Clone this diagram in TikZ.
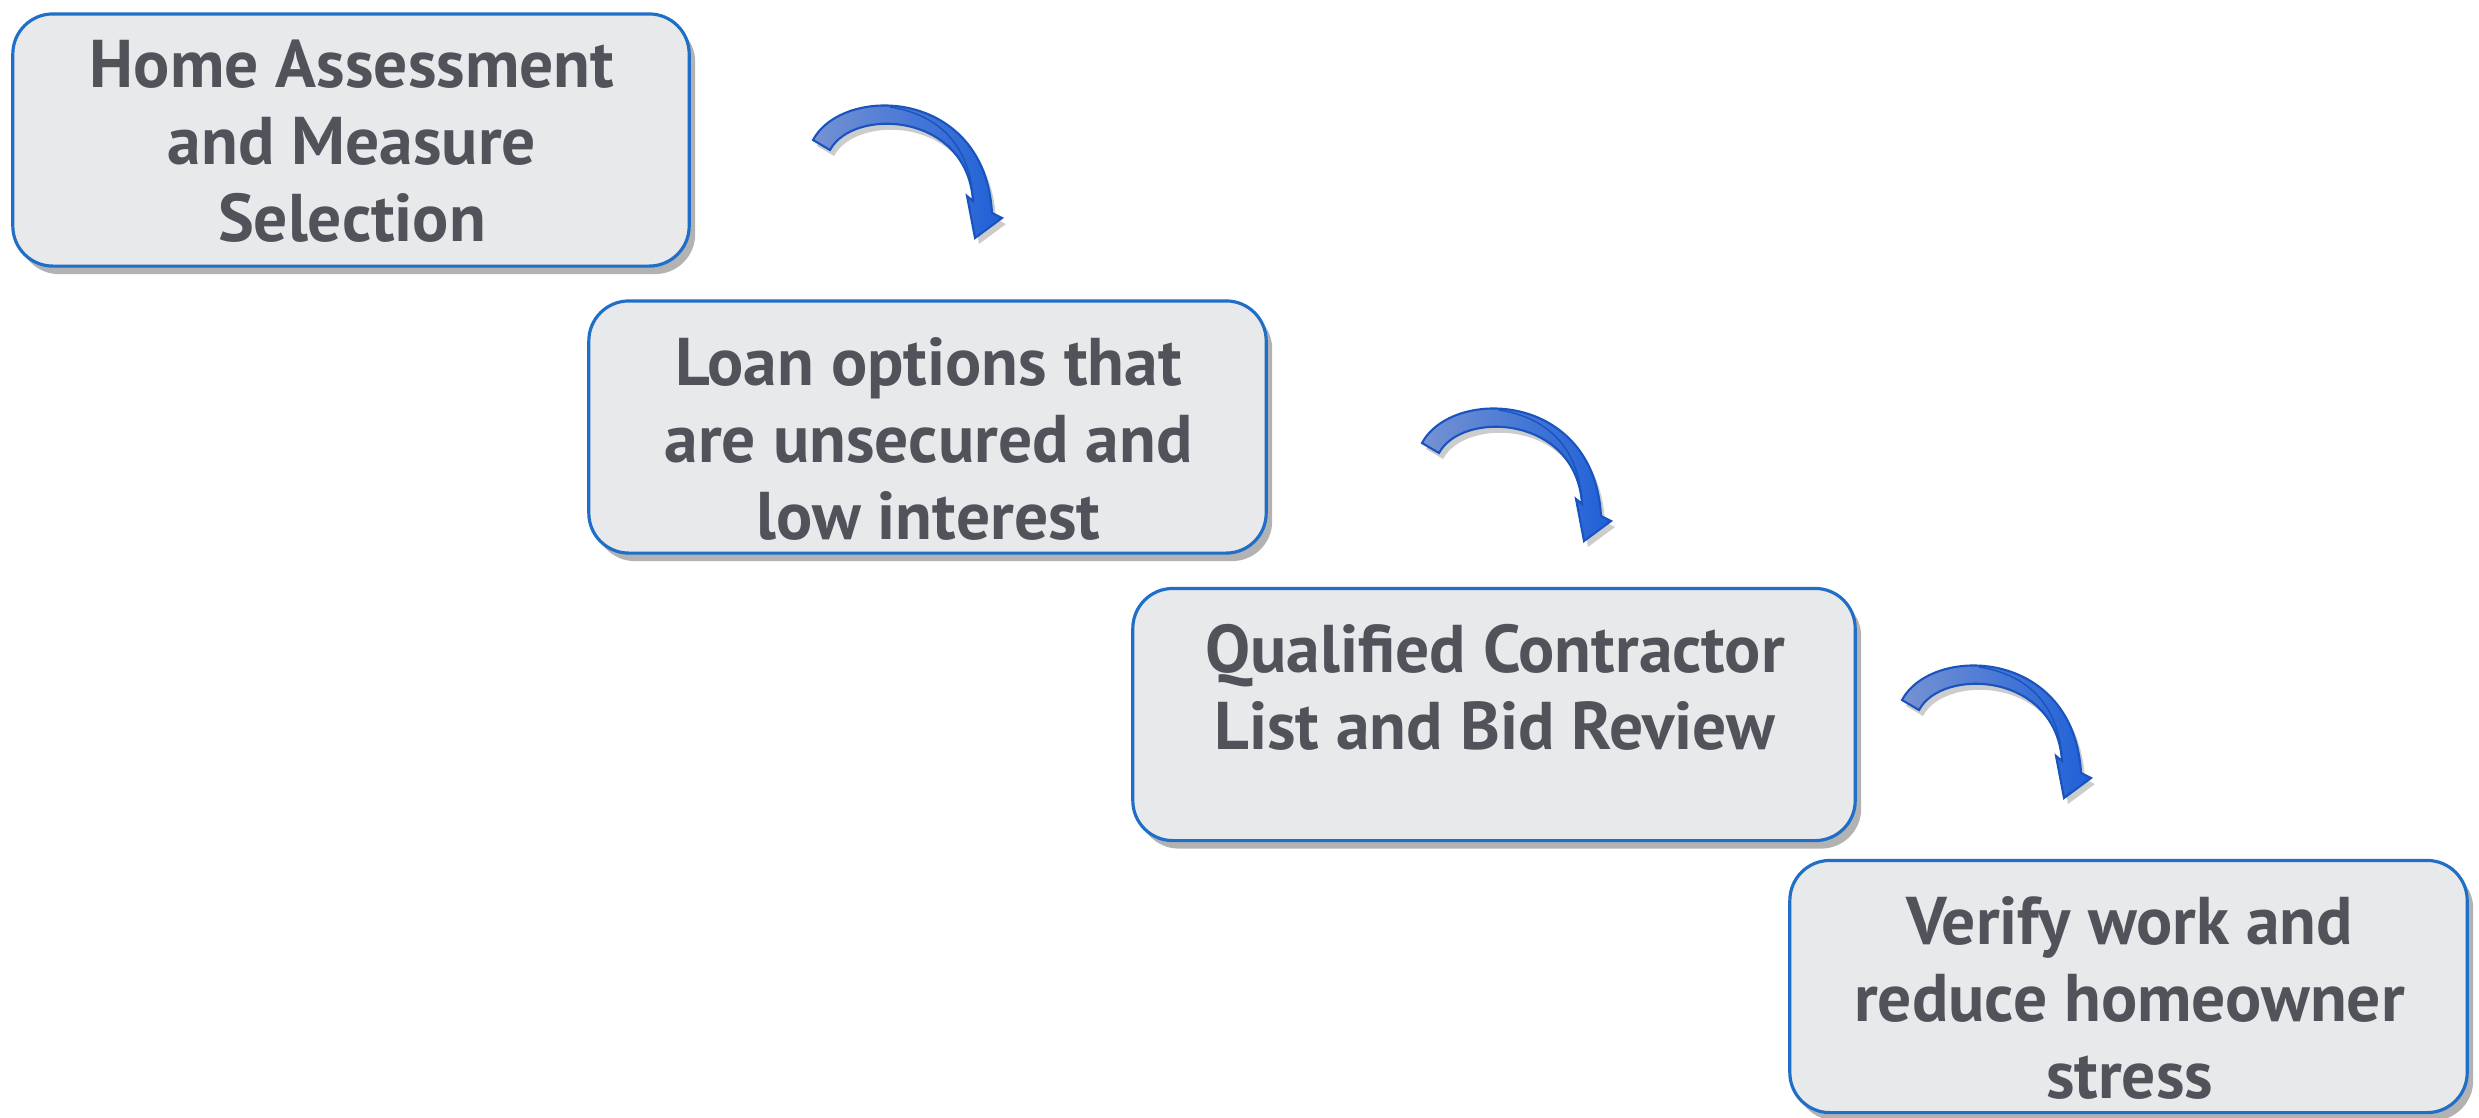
\documentclass[tikz,border=0pt]{standalone}
\usepackage{fontspec}
\setmainfont{PT Sans}
\usetikzlibrary{calc,shadows}

\definecolor{boxfill}{RGB}{232,233,235}
\definecolor{boxline}{RGB}{31,111,200}
\definecolor{boxtext}{RGB}{80,84,90}
\definecolor{arrowlight}{RGB}{118,146,210}
\definecolor{arrowdark}{RGB}{30,96,216}
\definecolor{arrowline}{RGB}{25,84,190}

\begin{document}
\begin{tikzpicture}[x=0.01cm,y=-0.01cm,
  stepbox/.style={draw=boxline, line width=0.9pt, fill=boxfill, rounded corners=0.4cm,
    minimum height=2.52cm,
    drop shadow={shadow xshift=0.06cm, shadow yshift=-0.08cm, opacity=0.3, fill=black}},
  steptext/.style={text=boxtext, align=center, font=\bfseries\fontsize{19.2}{21.9}\selectfont},
  bendarrow/.style={left color=arrowlight, right color=arrowdark, draw=arrowline, line width=0.6pt,
    drop shadow={shadow xshift=0.04cm, shadow yshift=-0.06cm, opacity=0.2, fill=black}}]

\useasboundingbox (0,0) rectangle (2479,1117);

\def\curvedown#1{
  \begin{scope}[shift={(#1)}]
    \path[bendarrow] (0,0) .. controls (30,-56) and (172,-52) .. (179,73) -- (189,78) -- (162,98)
      -- (154,56) -- (160,61) .. controls (154,-28) and (40,-33) .. (17,10) -- cycle;
    \draw[arrowline, line width=0.4pt] (77,-33) .. controls (130,-25) and (158,10) .. (160,61);
  \end{scope}}

% the four steps
\node[stepbox, minimum width=6.76cm] (home) at (351,140) {};
\node[stepbox, minimum width=6.77cm] (loan) at (927.5,427) {};
\node[stepbox, minimum width=7.22cm] (contractor) at (1494,714.5) {};
\node[stepbox, minimum width=6.77cm] (verify) at (2128.5,986.5) {};

\node[steptext] (home text) at ($(home)+(1,1)$) {Home Assessment\\and Measure\\Selection};
\node[steptext] (loan text) at ($(loan)+(1,12)$) {Loan options that\\are unsecured and\\low interest};
\node[steptext] (contractor text) at ($(contractor)+(1,-27)$) {Qualified Contractor\\List and Bid Review};
\node[steptext] (verify text) at ($(verify)+(1,11)$) {Verify work and\\reduce homeowner\\stress};

% arrows between the steps
\coordinate (turn one) at (813,140);
\coordinate (turn two) at (1422,443);
\coordinate (turn three) at (1902,700);
\curvedown{turn one}
\curvedown{turn two}
\curvedown{turn three}

\end{tikzpicture}
\end{document}
